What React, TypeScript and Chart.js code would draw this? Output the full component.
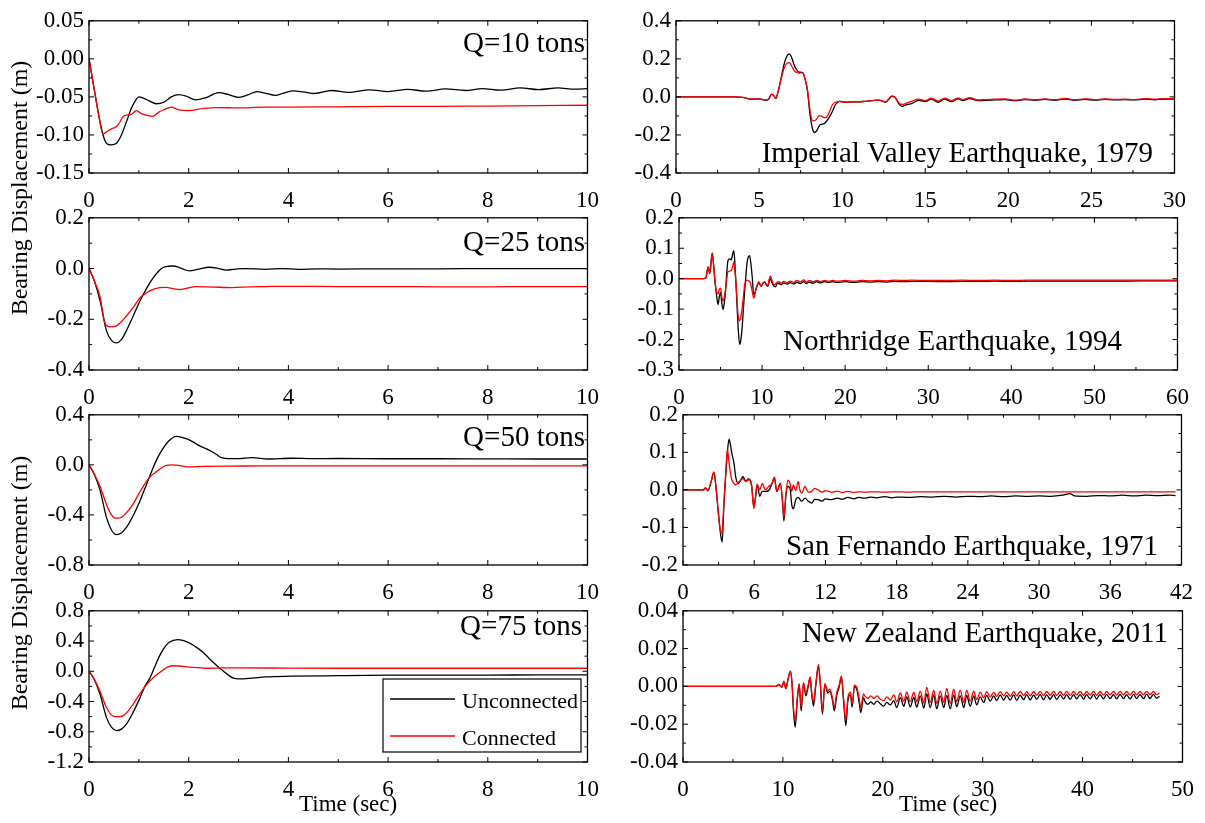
import React, { useEffect, useRef } from "react";
import { Chart, registerables } from "chart.js";

Chart.register(...registerables);

type Pt = [number, number];

const SERIES_NAMES = ["Unconnected", "Connected"];
const UNCONNECTED_COLOR = "#000000";
const CONNECTED_COLOR = "#ff0000";
const FONT = "'Liberation Serif', 'Times New Roman', serif";
const Y_AXIS_TITLE = "Bearing Displacement (m)";
const X_AXIS_TITLE = "Time (sec)";

// ---------- tick labels ----------
const leftXTicks = [0, 2, 4, 6, 8, 10];
const q10YTicks = [-0.15, -0.1, -0.05, 0, 0.05];
const q25YTicks = [-0.4, -0.2, 0, 0.2];
const q50YTicks = [-0.8, -0.4, 0, 0.4];
const q75YTicks = [-1.2, -0.8, -0.4, 0, 0.4, 0.8];
const imperialXTicks = [0, 5, 10, 15, 20, 25, 30];
const imperialYTicks = [-0.4, -0.2, 0, 0.2, 0.4];
const northridgeXTicks = [0, 10, 20, 30, 40, 50, 60];
const northridgeYTicks = [-0.3, -0.2, -0.1, 0, 0.1, 0.2];
const sanFernandoXTicks = [0, 6, 12, 18, 24, 30, 36, 42];
const sanFernandoYTicks = [-0.2, -0.1, 0, 0.1, 0.2];
const newZealandXTicks = [0, 10, 20, 30, 40, 50];
const newZealandYTicks = [-0.04, -0.02, 0, 0.02, 0.04];

// ---------- Q = 10 tons ----------
const q10Unconnected: Pt[] = [
  [0, 0], [0.1, -0.038], [0.2, -0.076], [0.3, -0.104], [0.37, -0.112], [0.45, -0.113], [0.55, -0.111],
  [0.65, -0.1], [0.75, -0.083], [0.85, -0.065], [0.95, -0.053], [1.0, -0.05], [1.1, -0.052], [1.2, -0.055],
  [1.35, -0.059], [1.5, -0.057], [1.65, -0.05], [1.8, -0.047], [1.95, -0.049], [2.14, -0.054], [2.35, -0.051],
  [2.6, -0.0445], [2.8, -0.047], [3.0, -0.0505], [3.2, -0.047], [3.37, -0.043], [3.55, -0.0455], [3.74, -0.048],
  [3.9, -0.045], [4.1, -0.042], [4.3, -0.0435], [4.53, -0.0455], [4.87, -0.0416], [5.2, -0.044], [5.63, -0.0407],
  [6.0, -0.043], [6.39, -0.04], [6.76, -0.0425], [7.15, -0.0395], [7.55, -0.0416], [7.89, -0.039], [8.25, -0.0412],
  [8.65, -0.0382], [9.02, -0.0404], [9.41, -0.0382], [9.74, -0.0399], [10, -0.039],
];
const q10Connected: Pt[] = [
  [0, 0], [0.1, -0.038], [0.2, -0.076], [0.28, -0.099], [0.35, -0.096], [0.45, -0.092], [0.55, -0.089],
  [0.62, -0.083], [0.68, -0.076], [0.75, -0.074], [0.85, -0.073], [0.95, -0.068], [1.05, -0.072], [1.15, -0.074],
  [1.28, -0.0755], [1.4, -0.07], [1.5, -0.067], [1.65, -0.0635], [1.8, -0.067], [2.0, -0.068], [2.3, -0.065],
  [2.6, -0.064], [3.0, -0.0645], [3.5, -0.0635], [4, -0.0635], [5, -0.063], [6, -0.0625], [7, -0.0625],
  [8, -0.062], [9, -0.0615], [10, -0.061],
];

// ---------- Q = 25 tons ----------
const q25Unconnected: Pt[] = [
  [0, 0], [0.1, -0.045], [0.22, -0.125], [0.35, -0.245], [0.45, -0.283], [0.55, -0.293], [0.65, -0.28],
  [0.75, -0.245], [0.88, -0.19], [1.02, -0.129], [1.15, -0.08], [1.28, -0.039], [1.4, -0.01], [1.48, 0.003],
  [1.6, 0.009], [1.68, 0.01], [1.8, 0.005], [1.9, -0.003], [2.01, -0.009], [2.2, -0.002], [2.41, 0.005],
  [2.6, 0.0], [2.74, -0.006], [2.95, -0.002], [3.14, 0.0], [3.54, -0.003], [3.87, 0.0], [4.2, -0.003],
  [4.6, -0.001], [5, -0.002], [6, -0.001], [7, -0.001], [8, 0], [9, 0], [10, 0],
];
const q25Connected: Pt[] = [
  [0, 0], [0.1, -0.045], [0.22, -0.11], [0.32, -0.215], [0.42, -0.23], [0.55, -0.226], [0.65, -0.21],
  [0.75, -0.187], [0.9, -0.15], [1.02, -0.116], [1.12, -0.1], [1.22, -0.088], [1.32, -0.08], [1.42, -0.075],
  [1.55, -0.074], [1.68, -0.079], [1.81, -0.083], [1.95, -0.078], [2.14, -0.071], [2.5, -0.073], [2.87, -0.075],
  [3.2, -0.072], [3.54, -0.071], [4.06, -0.07], [5, -0.071], [6, -0.071], [7, -0.072], [8, -0.072], [9, -0.071],
  [10, -0.071],
];

// ---------- Q = 50 tons ----------
const q50Unconnected: Pt[] = [
  [0, 0], [0.1, -0.07], [0.22, -0.2], [0.35, -0.42], [0.45, -0.52], [0.55, -0.557], [0.65, -0.545],
  [0.75, -0.5], [0.88, -0.41], [1.02, -0.29], [1.15, -0.16], [1.28, -0.029], [1.38, 0.06], [1.48, 0.128],
  [1.6, 0.19], [1.75, 0.227], [1.88, 0.218], [2.01, 0.2], [2.1, 0.18], [2.21, 0.154], [2.41, 0.118],
  [2.55, 0.085], [2.67, 0.055], [2.8, 0.05], [3.0, 0.05], [3.27, 0.058], [3.6, 0.047], [4.06, 0.053],
  [4.5, 0.05], [5, 0.051], [6, 0.049], [7, 0.049], [8, 0.048], [9, 0.047], [10, 0.047],
];
const q50Connected: Pt[] = [
  [0, 0], [0.1, -0.07], [0.22, -0.17], [0.35, -0.316], [0.45, -0.4], [0.52, -0.426], [0.6, -0.425],
  [0.68, -0.41], [0.78, -0.37], [0.88, -0.316], [1.0, -0.23], [1.15, -0.133], [1.25, -0.085], [1.35, -0.055],
  [1.45, -0.025], [1.55, -0.005], [1.68, 0.0], [1.85, -0.008], [2.01, -0.016], [2.3, -0.012], [2.87, -0.01],
  [3.5, -0.008], [4.06, -0.008], [5, -0.008], [6, -0.008], [7, -0.008], [8, -0.008], [9, -0.008], [10, -0.008],
];

// ---------- Q = 75 tons ----------
const q75Unconnected: Pt[] = [
  [0, 0], [0.1, -0.1], [0.22, -0.3], [0.35, -0.61], [0.45, -0.74], [0.55, -0.784], [0.65, -0.765],
  [0.75, -0.7], [0.88, -0.55], [1.02, -0.355], [1.12, -0.2], [1.22, -0.09], [1.32, 0.06], [1.42, 0.21],
  [1.52, 0.32], [1.61, 0.384], [1.78, 0.42], [1.9, 0.405], [2.01, 0.375], [2.15, 0.32], [2.28, 0.255],
  [2.41, 0.17], [2.54, 0.09], [2.68, 0.01], [2.81, -0.057], [2.9, -0.09], [3.0, -0.1], [3.27, -0.09],
  [3.54, -0.074], [4.06, -0.065], [5, -0.058], [6, -0.052], [7, -0.05], [8, -0.05], [9, -0.048], [10, -0.048],
];
const q75Connected: Pt[] = [
  [0, 0], [0.1, -0.1], [0.22, -0.265], [0.35, -0.48], [0.45, -0.58], [0.52, -0.6], [0.6, -0.6],
  [0.68, -0.59], [0.78, -0.53], [0.88, -0.44], [1.0, -0.32], [1.15, -0.18], [1.25, -0.11], [1.35, -0.05],
  [1.45, 0.0], [1.55, 0.047], [1.68, 0.073], [1.8, 0.07], [2.01, 0.056], [2.34, 0.04], [2.7, 0.045],
  [3, 0.045], [4, 0.042], [5, 0.04], [6, 0.04], [7, 0.04], [8, 0.04], [9, 0.04], [10, 0.04],
];

// ---------- Imperial Valley 1979 ----------
const imperialUnconnected: Pt[] = [
  [0, 0], [3.5, 0], [4.0, -0.002], [4.5, -0.012], [5.0, -0.01], [5.4, -0.018], [5.6, -0.01], [5.75, 0.015],
  [5.9, 0.005], [6.0, -0.009], [6.15, 0.03], [6.32, 0.097], [6.5, 0.17], [6.65, 0.21], [6.82, 0.226],
  [6.95, 0.21], [7.1, 0.17], [7.22, 0.149], [7.4, 0.13], [7.62, 0.128], [7.78, 0.09], [7.92, 0.028],
  [8.02, -0.06], [8.12, -0.126], [8.22, -0.17], [8.32, -0.187], [8.45, -0.18], [8.6, -0.155], [8.72, -0.144],
  [8.88, -0.142], [9.02, -0.132], [9.2, -0.11], [9.42, -0.075], [9.6, -0.04], [9.82, -0.023], [10.2, -0.028],
  [10.6, -0.026], [11.0, -0.026], [11.4, -0.023], [11.8, -0.02], [12.2, -0.017], [12.6, -0.028], [13.0, 0.003],
  [13.2, -0.005], [13.4, -0.035], [13.6, -0.05], [13.9, -0.04], [14.18, -0.035], [14.6, -0.018], [14.98, -0.025],
  [15.37, -0.012], [15.77, -0.028], [16.17, -0.012], [16.57, -0.025], [16.97, -0.01], [17.27, -0.02],
  [17.67, -0.009], [18.17, -0.02], [18.6, -0.018], [19.2, -0.016], [19.8, -0.014], [20.4, -0.02], [21.0, -0.014],
  [21.6, -0.018], [22.2, -0.013], [22.8, -0.018], [23.4, -0.011], [24.0, -0.018], [24.6, -0.013], [25.2, -0.017],
  [25.8, -0.013], [26.4, -0.016], [27.0, -0.014], [27.6, -0.016], [28.2, -0.012], [28.8, -0.015], [29.4, -0.011],
  [30, -0.012],
];
const imperialConnected: Pt[] = [
  [0, 0], [3.5, 0], [4.0, -0.002], [4.5, -0.012], [5.0, -0.01], [5.4, -0.016], [5.6, -0.008], [5.75, 0.015],
  [5.9, 0.005], [6.0, -0.008], [6.15, 0.03], [6.32, 0.09], [6.5, 0.15], [6.65, 0.175], [6.82, 0.18],
  [6.95, 0.165], [7.1, 0.14], [7.22, 0.13], [7.4, 0.125], [7.62, 0.128], [7.78, 0.09], [7.92, 0.03],
  [8.02, -0.04], [8.12, -0.1], [8.22, -0.125], [8.32, -0.126], [8.45, -0.118], [8.6, -0.1], [8.72, -0.1],
  [8.88, -0.108], [9.02, -0.109], [9.2, -0.085], [9.42, -0.04], [9.6, -0.028], [9.82, -0.023], [10.2, -0.028],
  [10.6, -0.026], [11.0, -0.026], [11.4, -0.023], [11.8, -0.02], [12.2, -0.017], [12.6, -0.026], [13.0, 0.005],
  [13.2, -0.003], [13.4, -0.03], [13.6, -0.04], [13.9, -0.032], [14.18, -0.023], [14.6, -0.012], [14.98, -0.02],
  [15.37, -0.007], [15.77, -0.022], [16.17, -0.006], [16.57, -0.02], [16.97, -0.005], [17.27, -0.015],
  [17.67, -0.004], [18.17, -0.016], [18.6, -0.014], [19.2, -0.012], [19.8, -0.011], [20.4, -0.017], [21.0, -0.011],
  [21.6, -0.015], [22.2, -0.01], [22.8, -0.015], [23.4, -0.008], [24.0, -0.015], [24.6, -0.01], [25.2, -0.014],
  [25.8, -0.011], [26.4, -0.013], [27.0, -0.012], [27.6, -0.014], [28.2, -0.009], [28.8, -0.012], [29.4, -0.009],
  [30, -0.01],
];

// ---------- Northridge 1994 ----------
const northridgeUnconnected: Pt[] = [
  [0, 0], [3.0, 0], [3.23, 0.002], [3.5, 0.039], [3.7, 0.017], [4.0, 0.085], [4.15, 0.05], [4.3, 0.0],
  [4.5, -0.05], [4.7, -0.085], [4.85, -0.06], [5.0, -0.045], [5.15, -0.08], [5.3, -0.101], [5.45, -0.08],
  [5.6, -0.04], [5.75, 0.02], [5.9, 0.06], [6.1, 0.065], [6.3, 0.062], [6.45, 0.08], [6.6, 0.092], [6.75, 0.04],
  [6.9, -0.04], [7.1, -0.15], [7.3, -0.216], [7.45, -0.2], [7.6, -0.16], [7.75, -0.1], [7.9, -0.042],
  [8.05, 0.01], [8.2, 0.055], [8.35, 0.072], [8.5, 0.076], [8.65, 0.05], [8.8, 0.01], [9.0, -0.053],
  [9.15, -0.045], [9.3, -0.031], [9.45, -0.02], [9.6, -0.012], [9.75, -0.02], [9.9, -0.025], [10.1, -0.015],
  [10.3, -0.012], [10.5, -0.02], [10.7, -0.025], [10.85, -0.01], [11.0, 0.0], [11.15, -0.01], [11.3, -0.02],
  [11.45, -0.025], [11.6, -0.027], [11.8, -0.017], [12.0, -0.015], [12.3, -0.02], [12.6, -0.014], [13.0, -0.018],
  [13.4, -0.013], [13.8, -0.017], [14.2, -0.012], [14.6, -0.016], [15.0, -0.01], [15.3, -0.016], [15.7, -0.011],
  [16.1, -0.015], [16.6, -0.01], [17.0, -0.014], [17.5, -0.01], [18.0, -0.013], [18.5, -0.01], [19, -0.012],
  [20, -0.01], [21, -0.012], [22, -0.01], [23, -0.011], [24, -0.01], [25, -0.011], [26, -0.009], [27, -0.01],
  [28, -0.009], [30, -0.009], [32, -0.01], [34, -0.009], [36, -0.009], [38, -0.008], [40, -0.009], [42, -0.008],
  [45, -0.008], [48, -0.008], [51, -0.008], [54, -0.008], [57, -0.007], [60, -0.007],
];
const northridgeConnected: Pt[] = [
  [0, 0], [3.0, 0], [3.23, 0.002], [3.5, 0.039], [3.7, 0.017], [4.0, 0.082], [4.15, 0.05], [4.3, 0.0],
  [4.5, -0.042], [4.7, -0.05], [4.85, -0.035], [5.0, -0.031], [5.15, -0.06], [5.3, -0.074], [5.45, -0.06],
  [5.6, -0.035], [5.75, 0.0], [5.9, 0.023], [6.1, 0.025], [6.3, 0.027], [6.45, 0.04], [6.6, 0.055], [6.75, 0.02],
  [6.9, -0.03], [7.1, -0.117], [7.3, -0.139], [7.45, -0.125], [7.6, -0.096], [7.75, -0.06], [7.9, -0.02],
  [8.05, -0.008], [8.2, -0.005], [8.35, -0.007], [8.5, -0.009], [8.65, -0.02], [8.8, -0.04], [9.0, -0.064],
  [9.15, -0.05], [9.3, -0.031], [9.45, -0.02], [9.6, -0.01], [9.75, -0.018], [9.9, -0.025], [10.1, -0.015],
  [10.3, -0.01], [10.5, -0.018], [10.7, -0.022], [10.85, -0.002], [11.0, 0.009], [11.15, -0.002], [11.3, -0.015],
  [11.45, -0.02], [11.6, -0.018], [11.8, -0.012], [12.0, -0.01], [12.3, -0.015], [12.6, -0.009], [13.0, -0.013],
  [13.4, -0.008], [13.8, -0.012], [14.2, -0.006], [14.6, -0.011], [15.0, -0.004], [15.3, -0.011], [15.7, -0.006],
  [16.1, -0.01], [16.6, -0.006], [17.0, -0.01], [17.5, -0.006], [18.0, -0.009], [18.5, -0.006], [19, -0.008],
  [20, -0.006], [21, -0.008], [22, -0.006], [23, -0.007], [24, -0.006], [25, -0.007], [26, -0.005], [27, -0.006],
  [28, -0.005], [30, -0.006], [32, -0.006], [34, -0.005], [36, -0.006], [38, -0.005], [40, -0.006], [42, -0.005],
  [45, -0.005], [48, -0.005], [51, -0.005], [54, -0.005], [57, -0.005], [60, -0.005],
];

// ---------- San Fernando 1971 ----------
const sanFernandoUnconnected: Pt[] = [
  [0, 0], [1.7, 0], [1.9, 0.005], [2.1, -0.002], [2.37, 0.022], [2.6, 0.047], [2.79, 0.004], [2.99, -0.065],
  [3.2, -0.126], [3.3, -0.139], [3.45, -0.039], [3.6, 0.04], [3.74, 0.1], [3.88, 0.135], [4.0, 0.12], [4.1, 0.1],
  [4.3, 0.07], [4.44, 0.035], [4.66, 0.017], [4.86, 0.026], [5.05, 0.035], [5.28, 0.024], [5.55, 0.029],
  [5.78, 0.013], [5.97, -0.045], [6.1, -0.022], [6.25, 0.013], [6.47, -0.017], [6.67, -0.004], [6.95, -0.004],
  [7.22, -0.002], [7.5, 0.017], [7.7, 0.032], [7.9, -0.004], [8.2, 0.017], [8.4, -0.039], [8.5, -0.083],
  [8.66, -0.017], [8.83, 0.009], [9.02, 0.004], [9.16, -0.039], [9.3, -0.05], [9.5, -0.026], [9.7, -0.02],
  [10.0, -0.03], [10.28, -0.022], [10.55, -0.03], [10.84, -0.035], [11.1, -0.025], [11.4, -0.026], [11.7, -0.03],
  [12.0, -0.024], [12.5, -0.026], [13.0, -0.022], [13.4, -0.025], [13.9, -0.02], [14.4, -0.024], [14.8, -0.02],
  [15.3, -0.022], [15.8, -0.019], [16.3, -0.021], [17, -0.018], [17.6, -0.021], [18.1, -0.019], [19, -0.02],
  [20, -0.018], [21, -0.019], [22, -0.017], [23, -0.019], [24, -0.017], [25, -0.018], [26, -0.016], [27, -0.018],
  [28, -0.016], [29, -0.017], [30, -0.016], [31, -0.017], [32, -0.014], [32.6, -0.01], [33, -0.016], [34, -0.017],
  [35, -0.015], [36, -0.016], [37, -0.014], [38, -0.016], [39, -0.014], [40, -0.015], [41, -0.014], [41.5, -0.015],
];
const sanFernandoConnected: Pt[] = [
  [0, 0], [1.7, 0], [1.9, 0.005], [2.1, -0.002], [2.37, 0.022], [2.6, 0.047], [2.79, 0.004], [2.99, -0.065],
  [3.2, -0.115], [3.3, -0.11], [3.45, -0.03], [3.6, 0.045], [3.74, 0.108], [3.88, 0.074], [4.0, 0.045],
  [4.1, 0.028], [4.3, 0.017], [4.44, 0.013], [4.66, 0.02], [4.86, 0.026], [5.05, 0.03], [5.28, 0.022],
  [5.55, 0.027], [5.78, 0.01], [5.97, -0.05], [6.1, -0.022], [6.25, 0.015], [6.47, 0.0], [6.67, 0.017],
  [6.95, 0.0], [7.22, 0.009], [7.5, 0.017], [7.7, 0.034], [7.9, -0.004], [8.2, 0.017], [8.4, -0.035],
  [8.5, -0.074], [8.66, -0.017], [8.83, 0.026], [9.02, 0.017], [9.16, -0.004], [9.3, 0.013], [9.5, -0.002],
  [9.7, 0.022], [9.85, 0.0], [10.0, -0.009], [10.28, 0.009], [10.55, -0.006], [10.84, -0.004], [11.1, 0.004],
  [11.4, 0.0], [11.7, -0.006], [12.0, -0.002], [12.5, -0.006], [13.0, -0.003], [13.4, -0.007], [13.9, -0.004],
  [14.4, -0.007], [14.8, -0.005], [15.3, -0.006], [16, -0.005], [17, -0.006], [18, -0.005], [19, -0.006],
  [20, -0.005], [22, -0.005], [24, -0.005], [26, -0.005], [28, -0.005], [30, -0.005], [32, -0.005], [34, -0.005],
  [36, -0.005], [38, -0.005], [40, -0.005], [41.5, -0.005],
];

// ---------- New Zealand 2011 ----------
const newZealandUnconnected: Pt[] = [
  [0, 0], [9.3, 0], [9.6, 0.001], [9.9, -0.0005], [10.1, 0.0026], [10.3, -0.0012], [10.5, 0.0035],
  [10.75, 0.0078], [10.9, 0.0026], [11.07, -0.0139], [11.23, -0.0216], [11.46, -0.006], [11.63, 0.001],
  [11.83, -0.013], [12.06, 0.0017], [12.3, -0.005], [12.5, -0.001], [12.73, 0.0043], [12.9, -0.005],
  [13.07, -0.0104], [13.3, 0.001], [13.56, 0.0104], [13.73, 0.0026], [13.96, -0.0147], [14.2, 0.001],
  [14.5, -0.0035], [14.7, -0.0026], [14.95, -0.007], [15.15, -0.013], [15.4, -0.0043], [15.6, -0.001],
  [15.86, 0.0043], [16.1, -0.0095], [16.3, -0.0208], [16.5, -0.0078], [16.76, -0.0043], [16.93, -0.011],
  [17.16, 0.0], [17.4, -0.0017], [17.66, -0.0095], [17.8, -0.0139], [18.06, -0.006], [18.2, -0.0078],
  [18.5, -0.0095], [18.8, -0.0082], [19.1, -0.0095], [19.4, -0.0078], [19.75, -0.0092], [20.1, -0.0104],
  [20.4, -0.0085], [20.75, -0.0098], [21.1, -0.0075], [21.4, -0.0112], [21.75, -0.006], [22.1, -0.0105],
  [22.4, -0.0055], [22.75, -0.0108], [23.1, -0.0058], [23.4, -0.011], [23.75, -0.005], [24.1, -0.0115],
  [24.4, -0.004], [24.75, -0.0112], [25.1, -0.0045], [25.4, -0.0118], [25.75, -0.005], [26.1, -0.0112],
  [26.4, -0.0048], [26.75, -0.0118], [27.1, -0.0045], [27.4, -0.0108], [27.75, -0.005], [28.1, -0.0112],
  [28.4, -0.0048], [28.75, -0.0105], [29.1, -0.005], [29.4, -0.0098], [29.75, -0.0055], [30.1, -0.0085],
  [30.4, -0.0048], [30.75, -0.0078], [31.1, -0.005], [31.4, -0.0075], [31.75, -0.0045], [32.1, -0.0072],
  [32.4, -0.0048], [32.75, -0.0072], [33.1, -0.0045], [33.4, -0.0074], [33.75, -0.0046], [34.1, -0.007],
  [34.4, -0.0044], [34.75, -0.0072], [35.1, -0.0046], [35.4, -0.0068], [35.75, -0.0044], [36.1, -0.007],
  [36.4, -0.0045], [36.75, -0.0068], [37.1, -0.0043], [37.4, -0.0069], [37.75, -0.0045], [38.1, -0.0067],
  [38.4, -0.0043], [38.75, -0.0068], [39.1, -0.0044], [39.4, -0.0066], [39.75, -0.0043], [40.1, -0.0067],
  [40.4, -0.0044], [40.75, -0.0066], [41.1, -0.0042], [41.4, -0.0067], [41.75, -0.0043], [42.1, -0.0066],
  [42.4, -0.0042], [42.75, -0.0065], [43.1, -0.0043], [43.4, -0.0066], [43.75, -0.0042], [44.1, -0.0065],
  [44.4, -0.0043], [44.75, -0.0066], [45.1, -0.0042], [45.4, -0.0064], [45.75, -0.0043], [46.1, -0.0065],
  [46.4, -0.0041], [46.75, -0.0064], [47.1, -0.0042], [47.4, -0.0063], [47.7, -0.0052],
];
const newZealandConnected: Pt[] = [
  [0, 0], [9.3, 0], [9.6, 0.001], [9.9, -0.0005], [10.1, 0.0026], [10.3, -0.0012], [10.5, 0.0035],
  [10.75, 0.0082], [10.9, 0.0026], [11.07, -0.012], [11.23, -0.018], [11.46, -0.005], [11.63, 0.0015],
  [11.83, -0.011], [12.06, 0.002], [12.3, -0.004], [12.5, 0.0], [12.73, 0.005], [12.9, -0.004],
  [13.07, -0.0085], [13.3, 0.002], [13.56, 0.0116], [13.73, 0.003], [13.96, -0.013], [14.2, 0.0015],
  [14.5, -0.0025], [14.7, -0.0015], [14.95, -0.006], [15.15, -0.011], [15.4, -0.003], [15.6, 0.0],
  [15.86, 0.0055], [16.1, -0.008], [16.3, -0.018], [16.5, -0.006], [16.76, -0.003], [16.93, -0.0095],
  [17.16, 0.0007], [17.4, -0.0005], [17.66, -0.007], [17.8, -0.0115], [18.06, -0.004], [18.2, -0.005],
  [18.5, -0.0064], [18.8, -0.005], [19.1, -0.0064], [19.4, -0.005], [19.75, -0.0068], [20.1, -0.0075],
  [20.4, -0.0055], [20.75, -0.0072], [21.1, -0.0045], [21.4, -0.0082], [21.75, -0.0035], [22.1, -0.0078],
  [22.4, -0.003], [22.75, -0.008], [23.1, -0.003], [23.4, -0.0082], [23.75, -0.0025], [24.1, -0.0088],
  [24.4, -0.0005], [24.75, -0.0085], [25.1, -0.002], [25.4, -0.009], [25.75, -0.0025], [26.1, -0.0085],
  [26.4, -0.001], [26.75, -0.009], [27.1, -0.0015], [27.4, -0.008], [27.75, -0.002], [28.1, -0.0085],
  [28.4, -0.002], [28.75, -0.0078], [29.1, -0.0025], [29.4, -0.007], [29.75, -0.003], [30.1, -0.006],
  [30.4, -0.0028], [30.75, -0.0055], [31.1, -0.0032], [31.4, -0.0052], [31.75, -0.0028], [32.1, -0.005],
  [32.4, -0.003], [32.75, -0.0052], [33.1, -0.0028], [33.4, -0.005], [33.75, -0.0027], [34.1, -0.0048],
  [34.4, -0.0028], [34.75, -0.005], [35.1, -0.0027], [35.4, -0.0048], [35.75, -0.0026], [36.1, -0.0049],
  [36.4, -0.0027], [36.75, -0.0047], [37.1, -0.0026], [37.4, -0.0048], [37.75, -0.0027], [38.1, -0.0047],
  [38.4, -0.0026], [38.75, -0.0048], [39.1, -0.0027], [39.4, -0.0046], [39.75, -0.0026], [40.1, -0.0047],
  [40.4, -0.0027], [40.75, -0.0046], [41.1, -0.0026], [41.4, -0.0047], [41.75, -0.0027], [42.1, -0.0046],
  [42.4, -0.0026], [42.75, -0.0045], [43.1, -0.0027], [43.4, -0.0046], [43.75, -0.0026], [44.1, -0.0045],
  [44.4, -0.0027], [44.75, -0.0046], [45.1, -0.0026], [45.4, -0.0045], [45.75, -0.0027], [46.1, -0.0045],
  [46.4, -0.0026], [46.75, -0.0044], [47.1, -0.0027], [47.4, -0.0044], [47.7, -0.0035],
];

// ---------- panel layout ----------
interface PanelSpec {
  key: string;
  area: [number, number, number, number]; // page left, top, right, bottom of plot area
  xTicks: number[];
  yTicks: number[];
  yDecimals: number;
  unconnected: Pt[];
  connected: Pt[];
  title: string;
  titleRight: number;
  titleBaseline: number;
  bottomExtra: number;
  legend?: boolean;
  xTitle?: { x: number; baseline: number };
}

const PANELS: PanelSpec[] = [
  { key: "q10", area: [89, 18, 591, 173], xTicks: leftXTicks, yTicks: q10YTicks, yDecimals: 2,
    unconnected: q10Unconnected, connected: q10Connected, title: "Q=10 tons", titleRight: 585, titleBaseline: 52, bottomExtra: 45 },
  { key: "q25", area: [89, 215, 591, 370], xTicks: leftXTicks, yTicks: q25YTicks, yDecimals: 1,
    unconnected: q25Unconnected, connected: q25Connected, title: "Q=25 tons", titleRight: 585, titleBaseline: 251, bottomExtra: 45 },
  { key: "q50", area: [89, 412, 591, 565], xTicks: leftXTicks, yTicks: q50YTicks, yDecimals: 1,
    unconnected: q50Unconnected, connected: q50Connected, title: "Q=50 tons", titleRight: 585, titleBaseline: 446, bottomExtra: 45 },
  { key: "q75", area: [89, 608, 591, 762], xTicks: leftXTicks, yTicks: q75YTicks, yDecimals: 1,
    unconnected: q75Unconnected, connected: q75Connected, title: "Q=75 tons", titleRight: 582, titleBaseline: 635, bottomExtra: 60,
    legend: true, xTitle: { x: 299, baseline: 811 } },
  { key: "imperial", area: [676, 18, 1178, 173], xTicks: imperialXTicks, yTicks: imperialYTicks, yDecimals: 1,
    unconnected: imperialUnconnected, connected: imperialConnected, title: "Imperial Valley Earthquake, 1979",
    titleRight: 1153, titleBaseline: 162, bottomExtra: 45 },
  { key: "northridge", area: [679, 215, 1181, 370], xTicks: northridgeXTicks, yTicks: northridgeYTicks, yDecimals: 1,
    unconnected: northridgeUnconnected, connected: northridgeConnected, title: "Northridge Earthquake, 1994",
    titleRight: 1122, titleBaseline: 350, bottomExtra: 45 },
  { key: "sanfernando", area: [683, 412, 1185, 565], xTicks: sanFernandoXTicks, yTicks: sanFernandoYTicks, yDecimals: 1,
    unconnected: sanFernandoUnconnected, connected: sanFernandoConnected, title: "San Fernando Earthquake, 1971",
    titleRight: 1158, titleBaseline: 555, bottomExtra: 45 },
  { key: "newzealand", area: [683, 608, 1186, 762], xTicks: newZealandXTicks, yTicks: newZealandYTicks, yDecimals: 2,
    unconnected: newZealandUnconnected, connected: newZealandConnected, title: "New Zealand Earthquake, 2011",
    titleRight: 1168, titleBaseline: 642, bottomExtra: 60, xTitle: { x: 899, baseline: 811 } },
];

const Y_AXIS_W = 80;
const PAD_T = 16;
const PAD_R = 22;

function Panel({ spec }: { spec: PanelSpec }) {
  const ref = useRef<HTMLCanvasElement | null>(null);
  const [L, T, R, B] = spec.area;
  const ox = L - Y_AXIS_W;
  const oy = T - PAD_T;
  const width = R - L + Y_AXIS_W + PAD_R;
  const height = B - T + PAD_T + spec.bottomExtra;

  useEffect(() => {
    const canvas = ref.current;
    if (!canvas) return;
    const xT = spec.xTicks;
    const yT = spec.yTicks;

    const framePlugin = {
      id: "frame_" + spec.key,
      afterDraw(chart: any) {
        const ctx = chart.ctx as CanvasRenderingContext2D;
        const ca = chart.chartArea;
        const xs = chart.scales.x;
        const ys = chart.scales.y;
        ctx.save();
        ctx.strokeStyle = "#000";
        ctx.lineWidth = 1.3;
        ctx.strokeRect(ca.left, ca.top, ca.right - ca.left, ca.bottom - ca.top);
        ctx.lineWidth = 1;
        const MAJ = 5;
        const MIN = 3;
        const seg = (x1: number, y1: number, x2: number, y2: number) => {
          ctx.beginPath();
          ctx.moveTo(x1, y1);
          ctx.lineTo(x2, y2);
          ctx.stroke();
        };
        xT.forEach((v, i) => {
          const px = xs.getPixelForValue(v);
          seg(px, ca.bottom, px, ca.bottom - MAJ);
          seg(px, ca.top, px, ca.top + MAJ);
          if (i < xT.length - 1) {
            const pm = xs.getPixelForValue((v + xT[i + 1]) / 2);
            seg(pm, ca.bottom, pm, ca.bottom - MIN);
            seg(pm, ca.top, pm, ca.top + MIN);
          }
        });
        yT.forEach((v, i) => {
          const py = ys.getPixelForValue(v);
          seg(ca.left, py, ca.left + MAJ, py);
          seg(ca.right, py, ca.right - MAJ, py);
          if (i < yT.length - 1) {
            const pm = ys.getPixelForValue((v + yT[i + 1]) / 2);
            seg(ca.left, pm, ca.left + MIN, pm);
            seg(ca.right, pm, ca.right - MIN, pm);
          }
        });
        ctx.fillStyle = "#000";
        ctx.textBaseline = "alphabetic";
        ctx.font = `29px ${FONT}`;
        ctx.textAlign = "right";
        ctx.fillText(spec.title, spec.titleRight - ox, spec.titleBaseline - oy);
        if (spec.xTitle) {
          ctx.font = `23px ${FONT}`;
          ctx.textAlign = "left";
          ctx.fillText(X_AXIS_TITLE, spec.xTitle.x - ox, spec.xTitle.baseline - oy);
        }
        if (spec.legend) {
          const bx = 383 - ox;
          const by = 679 - oy;
          ctx.lineWidth = 1.2;
          ctx.strokeStyle = "#000";
          ctx.strokeRect(bx, by, 198, 73);
          const ds = chart.data.datasets;
          const rows = [
            { y: 699 - oy, base: 708 - oy, d: ds[0] },
            { y: 736 - oy, base: 745 - oy, d: ds[1] },
          ];
          ctx.font = `22px ${FONT}`;
          ctx.textAlign = "left";
          rows.forEach((r) => {
            ctx.strokeStyle = r.d.borderColor;
            ctx.lineWidth = 1.3;
            seg(390 - ox, r.y, 455 - ox, r.y);
            ctx.fillStyle = "#000";
            ctx.fillText(r.d.label, 462 - ox, r.base);
          });
        }
        ctx.restore();
      },
    };

    const tickFont = { family: FONT, size: 23 };
    const chart = new Chart(canvas, {
      type: "line",
      data: {
        datasets: [
          {
            label: SERIES_NAMES[0],
            data: spec.unconnected.map(([x, y]) => ({ x, y })),
            borderColor: UNCONNECTED_COLOR,
            borderWidth: 1.3,
            pointRadius: 0,
            fill: false,
            cubicInterpolationMode: "monotone",
            order: 1,
          },
          {
            label: SERIES_NAMES[1],
            data: spec.connected.map(([x, y]) => ({ x, y })),
            borderColor: CONNECTED_COLOR,
            borderWidth: 1.3,
            pointRadius: 0,
            fill: false,
            cubicInterpolationMode: "monotone",
            order: 0,
          },
        ],
      },
      options: {
        animation: false,
        responsive: false,
        maintainAspectRatio: false,
        devicePixelRatio: 1,
        events: [],
        layout: { padding: { left: 0, top: PAD_T, right: PAD_R, bottom: 0 } },
        plugins: { legend: { display: false }, tooltip: { enabled: false }, title: { display: false } },
        scales: {
          x: {
            type: "linear",
            min: xT[0],
            max: xT[xT.length - 1],
            grid: { display: false, drawTicks: false },
            border: { display: false },
            ticks: {
              font: tickFont,
              color: "#000",
              padding: 14,
              maxRotation: 0,
              autoSkip: false,
              callback: (v: any) => String(v),
            },
            afterBuildTicks: (s: any) => {
              s.ticks = xT.map((v) => ({ value: v }));
            },
            afterFit: (s: any) => {
              s.height = spec.bottomExtra;
            },
          },
          y: {
            type: "linear",
            min: yT[0],
            max: yT[yT.length - 1],
            grid: { display: false, drawTicks: false },
            border: { display: false },
            ticks: {
              font: tickFont,
              color: "#000",
              padding: 5,
              autoSkip: false,
              callback: (v: any) => Number(v).toFixed(spec.yDecimals),
            },
            afterBuildTicks: (s: any) => {
              s.ticks = yT.map((v) => ({ value: v }));
            },
            afterFit: (s: any) => {
              s.width = Y_AXIS_W;
            },
          },
        },
      } as any,
      plugins: [framePlugin],
    });
    return () => chart.destroy();
  }, [spec]);

  return (
    <canvas
      ref={ref}
      width={width}
      height={height}
      style={{ position: "absolute", left: ox, top: oy, width, height }}
    />
  );
}

function YTitle({ cx, cy }: { cx: number; cy: number }) {
  return (
    <div
      style={{
        position: "absolute",
        left: cx,
        top: cy,
        transform: "translate(-50%, -50%) rotate(-90deg)",
        fontFamily: FONT,
        fontSize: 24,
        whiteSpace: "nowrap",
        color: "#000",
        lineHeight: "normal",
      }}
    >
      {Y_AXIS_TITLE}
    </div>
  );
}

export default function App() {
  return (
    <div
      style={{
        position: "fixed",
        left: 0,
        top: 0,
        width: 1205,
        height: 823,
        background: "#fff",
        overflow: "hidden",
      }}
    >
      {PANELS.map((p) => (
        <Panel key={p.key} spec={p} />
      ))}
      <YTitle cx={19} cy={188} />
      <YTitle cx={19} cy={583} />
    </div>
  );
}
